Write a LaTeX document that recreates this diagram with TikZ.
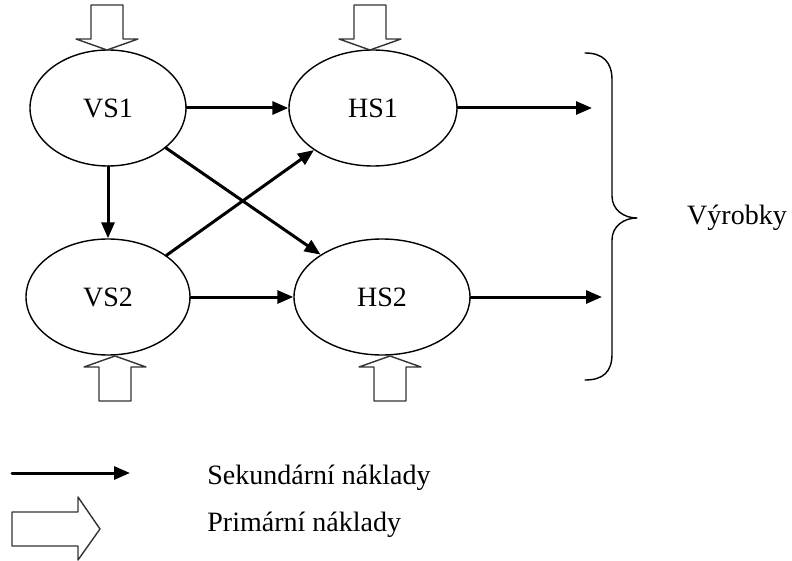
\documentclass[tikz,border=0pt]{standalone}
\usepackage{fontspec}
\setmainfont{Liberation Serif}
\usetikzlibrary{shapes.geometric,arrows.meta}

\begin{document}
\begin{tikzpicture}[
    x=0.5pt, y=-0.5pt,
    line cap=round,
    line join=round,
    every node/.style={
      font=\fontsize{14}{16}\selectfont,
      inner sep=1pt
    },
    stredisko/.style={ellipse, draw, line width=0.7pt, inner sep=0pt, minimum height=58pt},
    sekundarni/.style={-{Triangle[length=8pt,width=6.5pt]}, line width=1.5pt},
    primarni/.style={draw=black!80, line width=0.7pt, fill=white}
]
\useasboundingbox (0,0) rectangle (792,561);

% strediska
\node[stredisko, minimum width=78pt] (vs1) at (108,108) {VS1};
\node[stredisko, minimum width=84pt] (hs1) at (373,108) {HS1};
\node[stredisko, minimum width=82pt] (vs2) at (108,297) {VS2};
\node[stredisko, minimum width=88pt] (hs2) at (382,297) {HS2};

\coordinate (out1) at (592,108);
\coordinate (out2) at (602,297);

% sekundarni naklady
\draw[sekundarni] (vs1) -- (hs1);
\draw[sekundarni] (vs1) -- (vs2);
\draw[sekundarni] (vs1) -- (hs2);
\draw[sekundarni] (vs2) -- (hs1);
\draw[sekundarni] (vs2) -- (hs2);
\draw[sekundarni] (hs1) -- (out1);
\draw[sekundarni] (hs2) -- (out2);

% primarni naklady
\foreach \x/\y/\s in {107/50/1, 370/50/1, 115/356/-1, 390/356/-1} {
  \begin{scope}[shift={(\x,\y)}, yscale=\s]
    \draw[primarni] (0,0) -- (-31,-11) -- (-16,-11) -- (-16,-45)
      -- (16,-45) -- (16,-11) -- (31,-11) -- cycle;
  \end{scope}
}

% zavorka
\draw[line width=0.7pt] (585,53) .. controls (603,53) and (612,62) .. (612,80)
  -- (612,196) .. controls (612,210) and (624,218) .. (637,218)
  .. controls (624,218) and (612,226) .. (612,240)
  -- (612,354) .. controls (612,372) and (603,380) .. (585,380);
\node (vyrobky) at (737,218) {Výrobky};

% legenda
\coordinate (lega) at (12,473);
\coordinate (legb) at (130,473);
\draw[sekundarni] (lega) -- (legb);
\node[anchor=west] (leg1) at (205,478) {Sekundární náklady};
\draw[primarni] (12,512) -- (78,512) -- (78,497) -- (100,529)
  -- (78,560) -- (78,546) -- (12,546) -- cycle;
\node[anchor=west] (leg2) at (205,525) {Primární náklady};
\end{tikzpicture}
\end{document}
